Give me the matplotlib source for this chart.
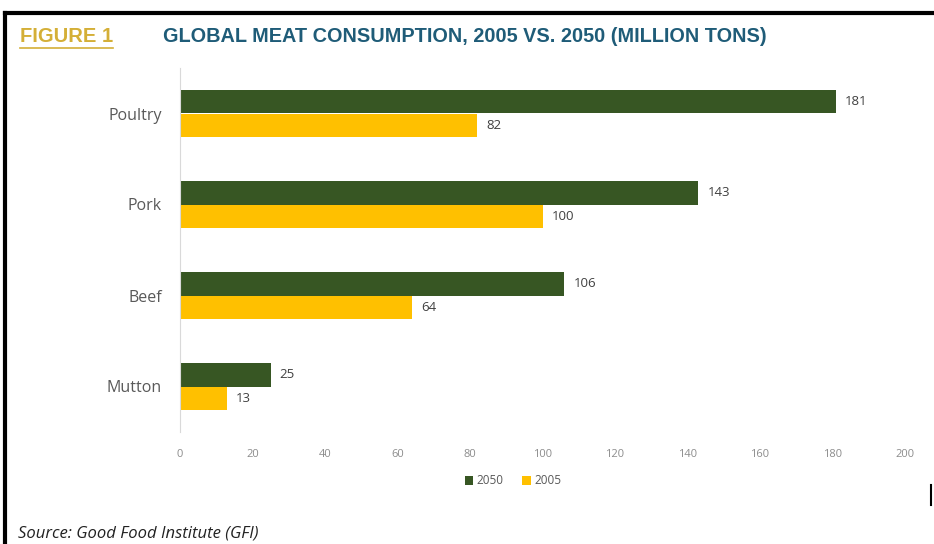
import matplotlib
matplotlib.use("Agg")
import matplotlib.pyplot as plt
from matplotlib import font_manager as fm
import numpy as np

categories = ["Poultry", "Pork", "Beef", "Mutton"]
values_2050 = [181, 143, 106, 25]
values_2005 = [82, 100, 64, 13]
series_names = ["2050", "2005"]
xticks = [0, 20, 40, 60, 80, 100, 120, 140, 160, 180, 200]

GREEN = "#375623"
GOLD = "#FFC000"

names = {f.name for f in fm.fontManager.ttflist}
head = "Liberation Sans Narrow" if "Liberation Sans Narrow" in names else "Liberation Sans"
body = "Open Sans" if "Open Sans" in names else "DejaVu Sans"

W, H = 934, 544
fig = plt.figure(figsize=(W / 100, H / 100), dpi=100)
fig.patch.set_facecolor("white")

ax = fig.add_axes([180 / W, 1 - 432 / H, (905 - 180) / W, (432 - 68) / H])
y = np.arange(len(categories))
h = 0.26
ax.barh(y - h / 2, values_2050, height=h, color=GREEN, label=series_names[0])
ax.barh(y + h / 2, values_2005, height=h, color=GOLD, label=series_names[1])
for yi, v in zip(y, values_2050):
    ax.text(v + 2.5, yi - h / 2, str(v), va="center", ha="left", fontsize=9.5, color="#404040", family=body)
for yi, v in zip(y, values_2005):
    ax.text(v + 2.5, yi + h / 2, str(v), va="center", ha="left", fontsize=9.5, color="#404040", family=body)

ax.set_xlim(0, 200)
ax.set_ylim(3.5, -0.5)
ax.set_yticks(y)
ax.set_yticklabels(categories, fontsize=11.5, color="#595959", family=body)
ax.set_xticks(xticks)
ax.set_xticklabels([str(t) for t in xticks], fontsize=8, color="#8C8C8C", family=body)
ax.tick_params(axis="both", length=0)
ax.tick_params(axis="x", pad=12)
ax.tick_params(axis="y", pad=13)
for s in ["top", "right", "bottom"]:
    ax.spines[s].set_visible(False)
ax.spines["left"].set_color("#D9D9D9")

leg = fig.legend(loc="center", bbox_to_anchor=(513 / W, 1 - 481 / H), ncol=2, frameon=False,
                 handlelength=0.7, handleheight=0.7, handletextpad=0.3,
                 columnspacing=1.6, prop={"family": body, "size": 8.5})
for t in leg.get_texts():
    t.set_color("#595959")

fig.text(20 / W, 1 - 37 / H, "FIGURE 1", fontsize=14.5, fontweight="bold", color="#D4AF37",
         family=head, va="center", ha="left")
fig.add_artist(plt.Line2D([20 / W, 113 / W], [1 - 48 / H, 1 - 48 / H], color="#D4AF37", lw=1.2))
fig.text(163 / W, 1 - 37 / H, "GLOBAL MEAT CONSUMPTION, 2005 VS. 2050 (MILLION TONS)", fontsize=14.3,
         fontweight="bold", color="#1F5C78", family=head, va="center", ha="left")

fig.text(18 / W, 1 - 533 / H, "Source: Good Food Institute (GFI)", fontsize=12, style="italic",
         color="#222222", family=body, va="center", ha="left")

fig.add_artist(plt.Line2D([5 / W, 1], [1 - 13 / H, 1 - 13 / H], color="black", lw=3))
fig.add_artist(plt.Line2D([5 / W, 5 / W], [0, 1 - 13 / H], color="black", lw=3))
fig.add_artist(plt.Line2D([931 / W, 931 / W], [1 - 485 / H, 1 - 505 / H], color="black", lw=1.5))

fig.savefig("out.png", dpi=100)
